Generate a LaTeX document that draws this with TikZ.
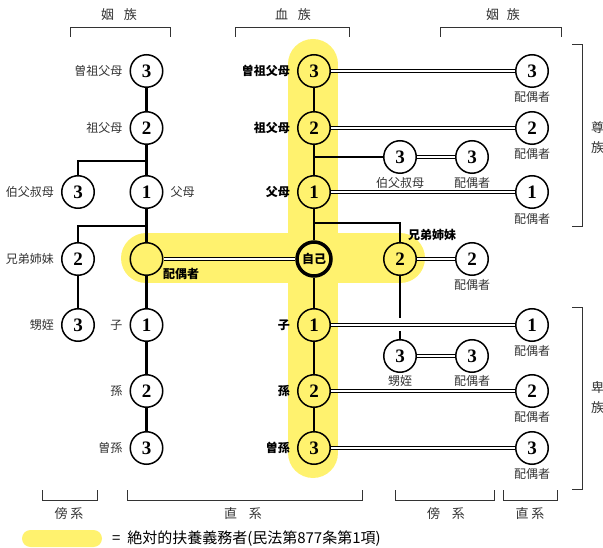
\documentclass[tikz,border=0pt]{standalone}
\usepackage{fontspec}
\setmainfont{Noto Sans CJK JP}
\newfontfamily\numf{Liberation Serif}
\definecolor{hl}{RGB}{255,242,110}
\definecolor{txt}{RGB}{51,51,51}
\tikzset{
 pc/.style={circle, draw, line width=1.5pt, minimum size=32.5pt, inner sep=0pt, font=\numf\bfseries\fontsize{19}{19}\selectfont},
 ego/.style={pc, line width=3.5pt, minimum size=34pt, font=\bfseries\fontsize{12}{12}\selectfont},
 lnk/.style={line width=2.6pt},
 dbl/.style={double, line width=1pt, double distance=2pt},
 lab/.style={font=\fontsize{12}{12}\selectfont, text=txt, inner sep=0pt},
 blab/.style={font=\bfseries\fontsize{12}{12}\selectfont, inner sep=0pt},
 hdr/.style={font=\fontsize{13}{13}\selectfont, text=txt, inner sep=0pt},
 brk/.style={line width=1pt, draw=txt},
 band/.style={draw=hl, line width=50pt, line cap=round},
}
\begin{document}
\begin{tikzpicture}[x=1pt, y=-1pt]
\useasboundingbox (0,0) rectangle (603,548);
% highlight bands
\draw[band] (313,64) -- (313,453);
\draw[band] (146,258.5) -- (400,258.5);
% left column
\node[pc] (lA3) at (146.5,71) {3};
\node[pc] (lA2) at (146.5,128) {2};
\node[pc] (lA1) at (146.5,192) {1};
\node[pc] (lOj) at (78,192) {3};
\node[pc] (lSp) at (146.5,259) {};
\node[pc] (lSib) at (78,259) {2};
\node[pc] (lNep) at (78,325) {3};
\node[pc] (lD1) at (146.5,325) {1};
\node[pc] (lD2) at (146.5,391) {2};
\node[pc] (lD3) at (146.5,448) {3};
% center column
\node[pc] (cA3) at (314,71) {3};
\node[pc] (cA2) at (314,128) {2};
\node[pc] (cA1) at (314,192) {1};
\node[ego] (ego) at (314,259) {自己};
\node[pc] (cD1) at (314,325) {1};
\node[pc] (cD2) at (314,391) {2};
\node[pc] (cD3) at (314,448) {3};
\node[pc] (cOj) at (400,157) {3};
\node[pc] (cOjS) at (472,157) {3};
\node[pc] (cSib) at (400,259) {2};
\node[pc] (cSibS) at (472,259) {2};
\node[pc] (cNep) at (400,356) {3};
\node[pc] (cNepS) at (472,356) {3};
% right column
\node[pc] (rA3) at (532,71) {3};
\node[pc] (rA2) at (532,128) {2};
\node[pc] (rA1) at (532,192) {1};
\node[pc] (rD1) at (532,325) {1};
\node[pc] (rD2) at (532,391) {2};
\node[pc] (rD3) at (532,448) {3};
% junctions
\coordinate (j1) at (146.5,161);
\coordinate (j1l) at (78,161);
\coordinate (j2) at (146.5,226);
\coordinate (j2l) at (78,226);
\coordinate (j3) at (314,157);
\coordinate (j4) at (314,223);
\coordinate (j4r) at (400,223);
\coordinate (g1) at (400,318);
\coordinate (g2) at (400,331);
% single links
\draw[lnk] (lA3) -- (lA2) (lA2) -- (lA1) (lA1) -- (lSp) (lSp) -- (lD1) (lD1) -- (lD2) (lD2) -- (lD3);
\draw[lnk] (j1) -- (j1l) -- (lOj);
\draw[lnk] (j2) -- (j2l) -- (lSib);
\draw[lnk] (lSib) -- (lNep);
\draw[lnk] (cA3) -- (cA2) (cA2) -- (cA1) (cA1) -- (ego) (ego) -- (cD1) (cD1) -- (cD2) (cD2) -- (cD3);
\draw[lnk] (j3) -- (cOj);
\draw[lnk] (j4) -- (j4r) -- (cSib);
\draw[lnk] (cSib) -- (g1);
\draw[lnk] (g2) -- (cNep);
% double links
\draw[dbl] (cA3) -- (rA3);
\draw[dbl] (cA2) -- (rA2);
\draw[dbl] (cOj) -- (cOjS);
\draw[dbl] (cA1) -- (rA1);
\draw[dbl] (lSp) -- (ego);
\draw[dbl] (cSib) -- (cSibS);
\draw[dbl] (cD1) -- (rD1);
\draw[dbl] (cNep) -- (cNepS);
\draw[dbl] (cD2) -- (rD2);
\draw[dbl] (cD3) -- (rD3);
% left labels
\node[lab, anchor=east] (t1) at ([xshift=-7pt]lA3.west) {曽祖父母};
\node[lab, anchor=east] (t2) at ([xshift=-7pt]lA2.west) {祖父母};
\node[lab, anchor=west] (t3) at ([xshift=7pt]lA1.east) {父母};
\node[lab, anchor=east] (t4) at ([xshift=-7pt]lOj.west) {伯父叔母};
\node[lab, anchor=east] (t5) at ([xshift=-7pt]lSib.west) {兄弟姉妹};
\node[lab, anchor=east] (t6) at ([xshift=-7pt]lNep.west) {甥姪};
\node[lab, anchor=east] (t7) at ([xshift=-7pt]lD1.west) {子};
\node[lab, anchor=east] (t8) at ([xshift=-7pt]lD2.west) {孫};
\node[lab, anchor=east] (t9) at ([xshift=-7pt]lD3.west) {曽孫};
\node[blab] (t10) at (181,274) {配偶者};
% center labels
\node[blab, anchor=east] (c1) at ([xshift=-7pt]cA3.west) {曽祖父母};
\node[blab, anchor=east] (c2) at ([xshift=-7pt]cA2.west) {祖父母};
\node[blab, anchor=east] (c3) at ([xshift=-7pt]cA1.west) {父母};
\node[blab, anchor=east] (c4) at ([xshift=-7pt]cD1.west) {子};
\node[blab, anchor=east] (c5) at ([xshift=-7pt]cD2.west) {孫};
\node[blab, anchor=east] (c6) at ([xshift=-7pt]cD3.west) {曽孫};
\node[blab] (c7) at (432,235) {兄弟姉妹};
\node[lab] (c8) at (400,182.5) {伯父叔母};
\node[lab] (c9) at (472,182.5) {配偶者};
\node[lab] (c10) at (472,285) {配偶者};
\node[lab] (c11) at (400,380.5) {甥姪};
\node[lab] (c12) at (472,380.5) {配偶者};
% right labels
\node[lab] (r1) at (532,97) {配偶者};
\node[lab] (r2) at (532,154) {配偶者};
\node[lab] (r3) at (532,218.5) {配偶者};
\node[lab] (r4) at (532,351) {配偶者};
\node[lab] (r5) at (532,417) {配偶者};
\node[lab] (r6) at (532,474) {配偶者};
% headers
\node[hdr] (h1) at (119,15) {姻\hspace{0.75em}族};
\node[hdr] (h2) at (293,15) {血\hspace{0.75em}族};
\node[hdr] (h3) at (503,15) {姻\hspace{0.6em}族};
\draw[brk] (70.7,37) -- (70.7,28) -- (170,28) -- (170,37);
\draw[brk] (235.7,37) -- (235.7,28) -- (349,28) -- (349,37);
\draw[brk] (440.7,37) -- (440.7,28) -- (561.7,28) -- (561.7,37);
% side brackets
\draw[brk] (572,44.3) -- (582.3,44.3) -- (582.3,226.7) -- (572,226.7);
\draw[brk] (572,307.3) -- (582.3,307.3) -- (582.3,489.3) -- (572,489.3);
\node[hdr] (s1) at (597.5,128) {尊};
\node[hdr] (s2) at (597.5,148) {族};
\node[hdr] (s3) at (597.5,388) {卑};
\node[hdr] (s4) at (597.5,408) {族};
% bottom brackets
\draw[brk] (42.7,490) -- (42.7,500) -- (97.3,500) -- (97.3,490);
\draw[brk] (127.3,490) -- (127.3,500) -- (362.3,500) -- (362.3,490);
\draw[brk] (395,490) -- (395,500) -- (494,500) -- (494,490);
\draw[brk] (503.3,490) -- (503.3,500) -- (557.3,500) -- (557.3,490);
\node[hdr] (b1) at (69,514) {傍\hspace{0.2em}系};
\node[hdr] (b2) at (243,514) {直\hspace{0.9em}系};
\node[hdr] (b3) at (446,514) {傍\hspace{0.9em}系};
\node[hdr] (b4) at (530,514) {直\hspace{0.2em}系};
% legend
\node[fill=hl, rounded corners=8.5pt, minimum width=80pt, minimum height=17pt, inner sep=0pt] (key) at (62,538.5) {};
\node[anchor=west, inner sep=0pt, font=\fontsize{15}{15}\selectfont] (keytxt) at (112,538.5) {=\hspace{0.45em}絶対的扶養義務者(民法第877条第1項)};
\end{tikzpicture}
\end{document}
